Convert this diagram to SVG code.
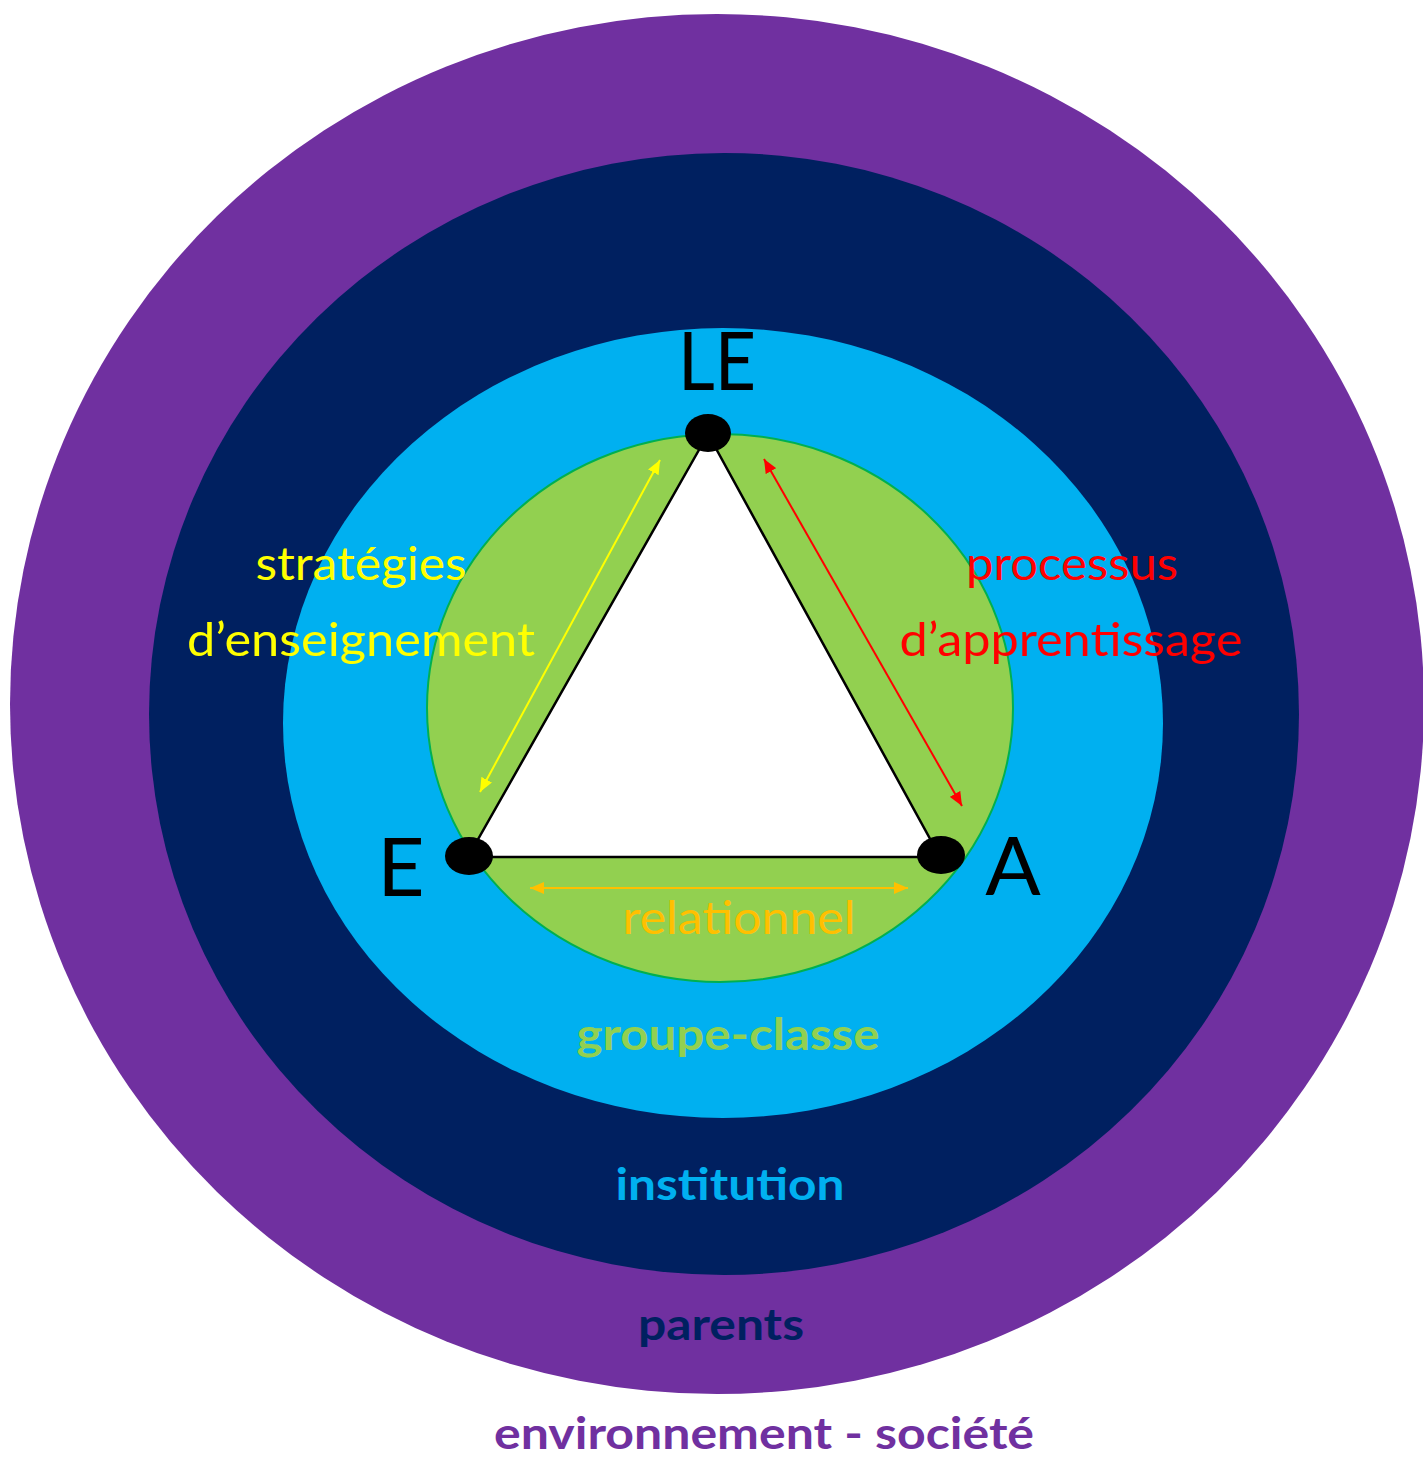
<svg xmlns="http://www.w3.org/2000/svg" width="1423" height="1458" viewBox="0 0 1423 1458">
<style>
text{font-family:Lato,"Open Sans","Liberation Sans",sans-serif}
.big{font-size:82px;fill:#000}
.lbl{font-size:46px}
.bold{font-size:44px;font-weight:bold}
.dot{fill:#000}
</style>
<defs>
<marker id="ay" viewBox="0 0 14 12" refX="14" refY="6" markerWidth="14" markerHeight="12" orient="auto-start-reverse" markerUnits="userSpaceOnUse"><path d="M0,0L14,6L0,12z" fill="#FFFF00"/></marker>
<marker id="ar" viewBox="0 0 14 12" refX="14" refY="6" markerWidth="14" markerHeight="12" orient="auto-start-reverse" markerUnits="userSpaceOnUse"><path d="M0,0L14,6L0,12z" fill="#FF0000"/></marker>
<marker id="ao" viewBox="0 0 14 12" refX="14" refY="6" markerWidth="14" markerHeight="12" orient="auto-start-reverse" markerUnits="userSpaceOnUse"><path d="M0,0L14,6L0,12z" fill="#FFC000"/></marker>
</defs>
<rect width="1423" height="1458" fill="#fff"/>
<g id="societe"><ellipse cx="717" cy="704" rx="707" ry="690" fill="#7030A0"/></g>
<g id="parents-ring"><ellipse cx="724" cy="714" rx="575" ry="561" fill="#002060"/></g>
<g id="institution-ring"><ellipse cx="723" cy="723" rx="440" ry="395" fill="#00B0F0"/></g>
<g id="groupe-classe-ring"><ellipse cx="720" cy="708" rx="293" ry="274" fill="#92D050" stroke="#00B050" stroke-width="2"/></g>
<g id="triangle"><polygon points="708,434 468,857 940,857" fill="#fff" stroke="#000" stroke-width="2.5"/></g>
<g id="connectors" fill="none" stroke-width="2">
<line x1="660" y1="460" x2="480" y2="792" stroke="#FFFF00" marker-start="url(#ay)" marker-end="url(#ay)"/>
<line x1="764" y1="459" x2="962" y2="806" stroke="#FF0000" marker-start="url(#ar)" marker-end="url(#ar)"/>
<line x1="530" y1="888" x2="908" y2="888" stroke="#FFC000" marker-start="url(#ao)" marker-end="url(#ao)"/>
</g>
<g id="node-LE"><ellipse class="dot" cx="708" cy="433" rx="23" ry="19"/><text class="big" x="717" y="390" text-anchor="middle" textLength="78" lengthAdjust="spacingAndGlyphs">LE</text></g>
<g id="node-E"><ellipse class="dot" cx="469" cy="856" rx="24" ry="19"/><text class="big" x="401" y="896" text-anchor="middle">E</text></g>
<g id="node-A"><ellipse class="dot" cx="941" cy="855" rx="24" ry="19"/><text class="big" x="1013" y="895" text-anchor="middle">A</text></g>
<g id="labels">
<text class="lbl" fill="#FFFF00" x="361" y="580" text-anchor="middle" textLength="211" lengthAdjust="spacingAndGlyphs">stratégies</text>
<text class="lbl" fill="#FFFF00" x="361" y="656" text-anchor="middle" textLength="348" lengthAdjust="spacingAndGlyphs">d’enseignement</text>
<text class="lbl" fill="#FF0000" x="1072" y="580" text-anchor="middle" textLength="212" lengthAdjust="spacingAndGlyphs">processus</text>
<text class="lbl" fill="#FF0000" x="1071" y="656" text-anchor="middle" textLength="343" lengthAdjust="spacingAndGlyphs">d’apprentissage</text>
<text class="lbl" fill="#FFC000" x="739" y="934" text-anchor="middle" textLength="233" lengthAdjust="spacingAndGlyphs">relationnel</text>
<text class="bold" fill="#92D050" x="728" y="1050" text-anchor="middle" textLength="303" lengthAdjust="spacingAndGlyphs">groupe-classe</text>
<text class="bold" fill="#00B0F0" x="730" y="1200" text-anchor="middle" textLength="229" lengthAdjust="spacingAndGlyphs">institution</text>
<text class="bold" fill="#002060" x="721" y="1340" text-anchor="middle" textLength="166" lengthAdjust="spacingAndGlyphs">parents</text>
<text class="bold" fill="#7030A0" x="764" y="1449" text-anchor="middle" textLength="540" lengthAdjust="spacingAndGlyphs">environnement - société</text>
</g>
</svg>
